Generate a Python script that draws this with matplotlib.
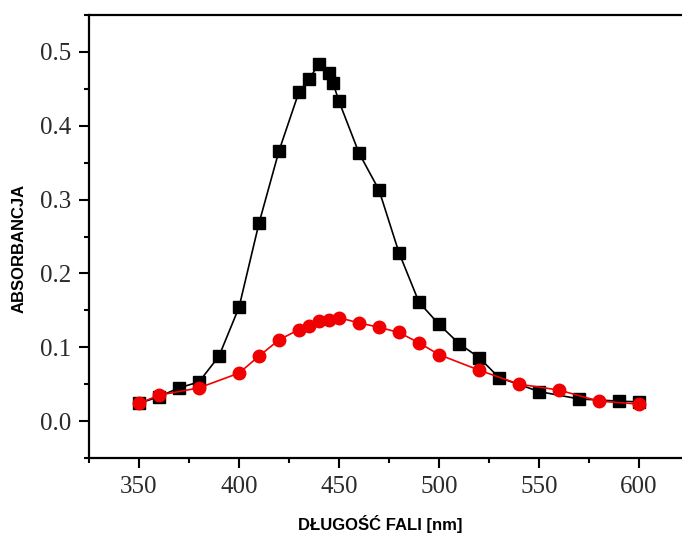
import matplotlib
matplotlib.use("Agg")
import matplotlib.pyplot as plt
from matplotlib.ticker import MultipleLocator

# black series (squares)
wl_black = [350, 360, 370, 380, 390, 400, 410, 420, 430, 435, 440, 445, 447,
            450, 460, 470, 480, 490, 500, 510, 520, 530, 550, 570, 590, 600]
abs_black = [0.024, 0.033, 0.045, 0.053, 0.088, 0.154, 0.268, 0.366, 0.446, 0.463,
             0.484, 0.472, 0.458, 0.433, 0.363, 0.313, 0.228, 0.161, 0.131, 0.105,
             0.086, 0.059, 0.040, 0.030, 0.027, 0.026]

# red series (circles)
wl_red = [350, 360, 380, 400, 410, 420, 430, 435, 440, 445, 450, 460, 470, 480,
          490, 500, 520, 540, 560, 580, 600]
abs_red = [0.024, 0.035, 0.045, 0.065, 0.088, 0.110, 0.124, 0.129, 0.135, 0.137,
           0.140, 0.133, 0.127, 0.120, 0.106, 0.090, 0.069, 0.050, 0.042, 0.027, 0.023]

W, H = 682, 534
fig = plt.figure(figsize=(W / 100, H / 100), dpi=100)
ax = fig.add_axes([89 / W, (H - 458) / H, 600 / W, 443 / H])

ax.plot(wl_black, abs_black, color="black", lw=1.2, marker="s", ms=8,
        markeredgecolor="black", zorder=2)
ax.plot(wl_red, abs_red, color="#f00000", lw=1.2, marker="o", ms=9,
        markeredgecolor="#f00000", zorder=3)

ax.set_xlim(325, 625)
ax.set_ylim(-0.05, 0.55)
ax.xaxis.set_minor_locator(MultipleLocator(25))
ax.yaxis.set_minor_locator(MultipleLocator(0.05))
ax.set_yticks([0.0, 0.1, 0.2, 0.3, 0.4, 0.5])
ax.set_xticks([350, 400, 450, 500, 550, 600])

for s in ax.spines.values():
    s.set_linewidth(1.6)
ax.spines["right"].set_visible(False)

ax.tick_params(which="major", direction="out", length=7, width=1.5,
               labelsize=18, pad=6)
ax.tick_params(which="minor", direction="out", length=3.5, width=1.5)
for lab in ax.get_xticklabels() + ax.get_yticklabels():
    lab.set_family("Liberation Serif")
    lab.set_color("#2a2a2a")

fig.text(380 / W, 1 - 524 / H, "DŁUGOŚĆ FALI [nm]", family="Liberation Sans",
         weight="bold", fontsize=12, ha="center", va="center")
fig.text(19 / W, 1 - 248 / H, "ABSORBANCJA", family="Liberation Sans",
         weight="bold", fontsize=12, ha="center", va="center", rotation=90)

fig.savefig("out.png", dpi=100)
